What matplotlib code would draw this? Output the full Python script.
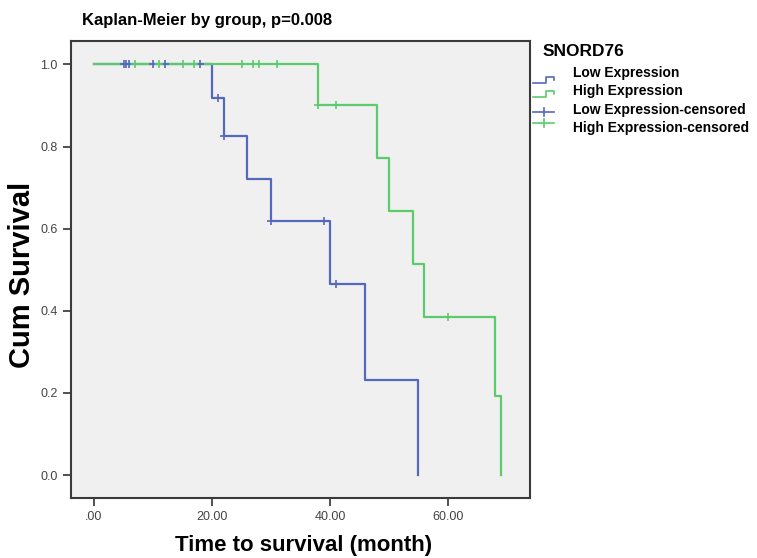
import numpy as np
import matplotlib
matplotlib.use("Agg")
import matplotlib.pyplot as plt
from matplotlib.lines import Line2D

plt.rcParams['font.family'] = ['Liberation Sans', 'DejaVu Sans']

# ==========================================
# DATA
# ==========================================
low_times = [0, 20, 22, 26, 30, 40, 46, 55]
low_surv = [1.0, 0.917, 0.825, 0.722, 0.619, 0.464, 0.232, 0.0]
low_cens_t = [5, 5.5, 6, 10, 12, 18, 21, 22, 30, 39, 41]
low_cens_s = [1.0, 1.0, 1.0, 1.0, 1.0, 1.0, 0.917, 0.825, 0.619, 0.619, 0.464]

high_times = [0, 38, 48, 50, 54, 56, 68, 69]
high_surv = [1.0, 0.9, 0.773, 0.643, 0.515, 0.386, 0.193, 0.0]
high_cens_t = [7, 11, 15, 17, 25, 27, 28, 31, 38, 41, 60]
high_cens_s = [1.0, 1.0, 1.0, 1.0, 1.0, 1.0, 1.0, 1.0, 0.9, 0.9, 0.386]

x_ticks = [0, 20, 40, 60]
x_tick_labels = ['.00', '20.00', '40.00', '60.00']
y_ticks = [0.0, 0.2, 0.4, 0.6, 0.8, 1.0]
y_tick_labels = ['0.0', '0.2', '0.4', '0.6', '0.8', '1.0']

legend_title = 'SNORD76'
legend_labels = ['Low Expression', 'High Expression',
                 'Low Expression-censored', 'High Expression-censored']

BLUE = '#5468BC'
GREEN = '#5CCB6C'

# ==========================================
# FIGURE
# ==========================================
W, H = 757, 558
fig = plt.figure(figsize=(W / 100, H / 100), dpi=100)
ax = fig.add_axes([71 / W, 1 - 498 / H, (530 - 71) / W, (498 - 41) / H])
ax.set_facecolor('#F0F0F0')

ax.step(low_times, low_surv, where='post', color=BLUE, linewidth=1.6)
ax.step(high_times, high_surv, where='post', color=GREEN, linewidth=1.6)
ax.plot(low_cens_t, low_cens_s, linestyle='none', marker='+', color=BLUE,
        markersize=6, markeredgewidth=1.2)
ax.plot(high_cens_t, high_cens_s, linestyle='none', marker='+', color=GREEN,
        markersize=6, markeredgewidth=1.2)

ax.set_xlim(-3.9, 73.9)
ax.set_ylim(-0.056, 1.057)
ax.set_xticks(x_ticks)
ax.set_xticklabels(x_tick_labels)
ax.set_yticks(y_ticks)
ax.set_yticklabels(y_tick_labels)
ax.tick_params(axis='both', direction='out', length=6, width=1.2,
               colors='#333333', labelsize=9, labelcolor='#444444')
for s in ax.spines.values():
    s.set_color('#3a3a3a')
    s.set_linewidth(1.5)

# title and axis labels placed like the reference
fig.text(207 / W, 1 - 20 / H, 'Kaplan-Meier by group, p=0.008', ha='center',
         va='center', fontsize=12, fontweight='bold')
fig.text(22 / W, 1 - 275 / H, 'Cum Survival', ha='center', va='center',
         rotation=90, fontsize=21, fontweight='bold')
fig.text(304 / W, 1 - 545 / H, 'Time to survival (month)', ha='center',
         va='center', fontsize=16, fontweight='bold')

# ==========================================
# LEGEND (drawn by hand, SPSS style)
# ==========================================
def px(x, y):
    return x / W, 1 - y / H

fig.text(*px(543, 51), legend_title, ha='left', va='center',
         fontsize=12.5, fontweight='bold')
label_y = [73, 91, 110, 128]
for lab, y in zip(legend_labels, label_y):
    fig.text(*px(573, y), lab, ha='left', va='center', fontsize=10,
             fontweight='bold')

for col, y in [(BLUE, 83), (GREEN, 97)]:
    xs = [533, 546, 546, 554, 554]
    ys = [y, y, y - 6, y - 6, y - 3]
    fig.add_artist(Line2D([v / W for v in xs], [1 - v / H for v in ys],
                          color=col, linewidth=1.2))
for col, y in [(BLUE, 112), (GREEN, 123)]:
    fig.add_artist(Line2D([533 / W, 554 / W], [1 - y / H] * 2,
                          color=col, linewidth=1.2))
    fig.add_artist(Line2D([544 / W] * 2, [1 - (y - 4) / H, 1 - (y + 4) / H],
                          color=col, linewidth=1.2))

fig.savefig('out.png', dpi=100)
